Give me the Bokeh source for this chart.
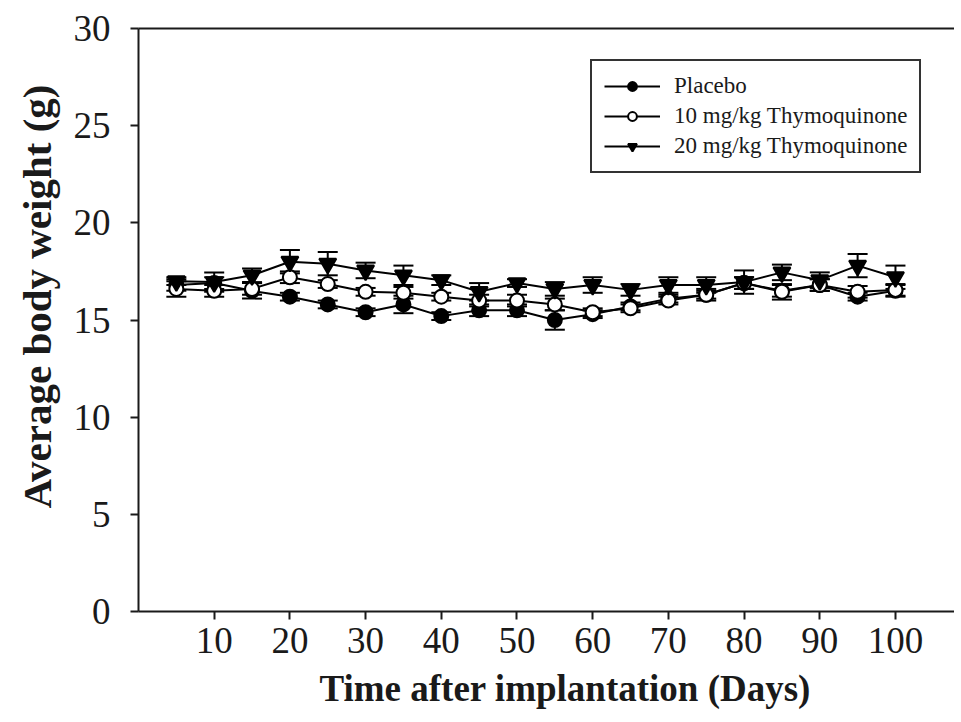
from bokeh.plotting import figure
from bokeh.models import (Range1d, LinearAxis, FixedTicker, Whisker, TeeHead,
                          ColumnDataSource, Legend, LegendItem, Title)
from bokeh.embed import file_html
from bokeh.resources import INLINE

days = [5, 10, 15, 20, 25, 30, 35, 40, 45, 50, 55, 60, 65, 70, 75, 80, 85, 90, 95, 100]
placebo = [16.8, 16.9, 16.5, 16.2, 15.8, 15.4, 15.8, 15.2, 15.5, 15.5,
           15.0, 15.3, 15.7, 16.1, 16.3, 16.9, 16.5, 16.8, 16.2, 16.5]
placebo_err = [0.3, 0.3, 0.4, 0.2, 0.2, 0.2, 0.45, 0.2, 0.3, 0.3,
               0.5, 0.2, 0.2, 0.2, 0.2, 0.3, 0.3, 0.3, 0.2, 0.3]
tq10 = [16.6, 16.5, 16.6, 17.2, 16.85, 16.45, 16.4, 16.2, 16.0, 16.0,
        15.8, 15.4, 15.6, 16.0, 16.3, 16.9, 16.45, 16.8, 16.45, 16.55]
tq10_err = [0.4, 0.3, 0.3, 0.3, 0.2, 0.2, 0.3, 0.2, 0.3, 0.3,
            0.3, 0.2, 0.2, 0.2, 0.3, 0.3, 0.4, 0.3, 0.3, 0.3]
tq20 = [17.0, 16.95, 17.3, 18.0, 17.9, 17.55, 17.3, 17.05, 16.45, 16.9,
        16.6, 16.8, 16.55, 16.8, 16.8, 16.95, 17.45, 17.05, 17.8, 17.2]
tq20_err = [0.2, 0.5, 0.35, 0.6, 0.6, 0.4, 0.5, 0.25, 0.45, 0.2,
            0.35, 0.4, 0.3, 0.4, 0.4, 0.6, 0.4, 0.4, 0.6, 0.6]
series_names = ["Placebo", "10 mg/kg Thymoquinone", "20 mg/kg Thymoquinone"]
x_ticks = [10, 20, 30, 40, 50, 60, 70, 80, 90, 100]
y_ticks = [0, 5, 10, 15, 20, 25, 30]
x_title = "Time after implantation (Days)"
y_title = "Average body weight (g)"

FONT = "Liberation Serif"
INK = "#1a1a1a"

p = figure(frame_width=816, frame_height=583, output_backend="svg", toolbar_location=None,
           x_range=Range1d(0, 107.8), y_range=Range1d(0, 30),
           min_border_left=137, min_border_right=0, min_border_top=28,
           min_border_bottom=100)
p.outline_line_color = None
p.grid.visible = False
p.background_fill_color = "white"

for ax in (p.xaxis[0], p.yaxis[0]):
    ax.axis_line_width = 2
    ax.axis_line_color = INK
    ax.major_tick_line_width = 2
    ax.major_tick_line_color = INK
    ax.major_tick_in = 0
    ax.major_tick_out = 8
    ax.minor_tick_line_color = None
    ax.major_label_text_font = FONT
    ax.major_label_text_font_size = "37px"
    ax.major_label_text_color = INK

p.xaxis[0].ticker = FixedTicker(ticks=x_ticks)
p.yaxis[0].ticker = FixedTicker(ticks=y_ticks)
p.xaxis[0].major_label_standoff = 8
p.yaxis[0].major_label_standoff = 20

top = LinearAxis(axis_line_width=2, axis_line_color=INK, major_tick_line_color=None,
                 minor_tick_line_color=None, major_label_text_font_size="0px",
                 major_tick_in=0, major_tick_out=0, major_label_standoff=0,
                 ticker=FixedTicker(ticks=[]))
p.add_layout(top, "above")

p.add_layout(Title(text=y_title, align="left", offset=103, standoff=22,
                   text_font=FONT, text_font_size="41px", text_font_style="bold",
                   text_color=INK), "left")
p.add_layout(Title(text=x_title, align="left", offset=181, standoff=20,
                   text_font=FONT, text_font_size="37px", text_font_style="bold",
                   text_color=INK), "below")

items = []
specs = [
    (placebo, placebo_err, "circle", "black", 14),
    (tq10, tq10_err, "circle", "white", 14),
    (tq20, tq20_err, "inverted_triangle", "black", 17),
]
for name, (vals, errs, marker, fill, size) in zip(series_names, specs):
    src = ColumnDataSource(dict(
        x=days, y=vals,
        up=[v + e for v, e in zip(vals, errs)],
        lo=[v - e for v, e in zip(vals, errs)]))
    w = Whisker(source=src, base="x", upper="up", lower="lo",
                line_color="black", line_width=2,
                upper_head=TeeHead(size=20, line_width=2, line_color="black"),
                lower_head=TeeHead(size=20, line_width=2, line_color="black"))
    p.add_layout(w)
    ln = p.line("x", "y", source=src, line_color="black", line_width=2)
    sc = p.scatter("x", "y", source=src, marker=marker, size=size,
                   fill_color=fill, line_color="black", line_width=2)
    items.append(LegendItem(label=name, renderers=[ln, sc]))

legend = Legend(items=items, location=(452, 438),
                label_text_font=FONT, label_text_font_size="23px",
                label_text_color=INK, glyph_width=56, glyph_height=22,
                label_standoff=14, spacing=4, padding=12, margin=0,
                border_line_color="#333333", border_line_width=2,
                border_line_alpha=1.0,
                background_fill_color="white", background_fill_alpha=1.0)
p.add_layout(legend, "center")

open("out.html", "w").write(file_html(p, INLINE))
